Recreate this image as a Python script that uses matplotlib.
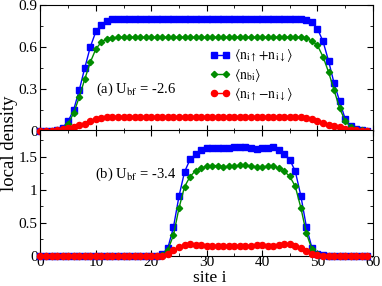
import matplotlib
matplotlib.use("Agg")
import matplotlib.pyplot as plt
import numpy as np

plt.rcParams["font.family"] = ["Liberation Serif", "DejaVu Serif"]
plt.rcParams["mathtext.fontset"] = "stix"

sites = np.arange(60)

# panel (a), U_bf = -2.6
a_total = [0, 0, 0, 0.005, 0.02, 0.067, 0.15, 0.29, 0.45, 0.60,
           0.71, 0.76, 0.787, 0.797, 0.80, 0.80, 0.80, 0.80, 0.80, 0.80,
           0.80, 0.80, 0.80, 0.80, 0.80, 0.80, 0.80, 0.80, 0.80, 0.80,
           0.80, 0.80, 0.80, 0.80, 0.80, 0.80, 0.80, 0.80, 0.80, 0.80,
           0.80, 0.80, 0.80, 0.80, 0.80, 0.80, 0.80, 0.797, 0.79, 0.775,
           0.73, 0.64, 0.50, 0.34, 0.21, 0.084, 0.03, 0.008, 0.002, 0]
a_boson = [0, 0, 0, 0.003, 0.012, 0.05, 0.125, 0.24, 0.37, 0.49,
           0.585, 0.635, 0.658, 0.665, 0.668, 0.668, 0.668, 0.668, 0.668, 0.668,
           0.668, 0.668, 0.668, 0.668, 0.668, 0.668, 0.668, 0.668, 0.668, 0.668,
           0.668, 0.668, 0.668, 0.668, 0.668, 0.668, 0.668, 0.668, 0.668, 0.668,
           0.668, 0.668, 0.668, 0.668, 0.668, 0.668, 0.668, 0.668, 0.66, 0.643,
           0.61, 0.53, 0.42, 0.29, 0.16, 0.07, 0.024, 0.006, 0.001, 0]
a_mag = [0, 0, 0, 0.003, 0.01, 0.017, 0.024, 0.036, 0.048, 0.065,
         0.079, 0.091, 0.098, 0.10, 0.10, 0.10, 0.10, 0.098, 0.095, 0.094,
         0.094, 0.094, 0.094, 0.094, 0.094, 0.094, 0.094, 0.094, 0.094, 0.094,
         0.094, 0.094, 0.094, 0.094, 0.094, 0.094, 0.094, 0.094, 0.094, 0.094,
         0.094, 0.094, 0.096, 0.098, 0.10, 0.10, 0.099, 0.096, 0.09, 0.079,
         0.067, 0.055, 0.041, 0.031, 0.022, 0.014, 0.006, 0.002, 0, 0]

# panel (b), U_bf = -3.4
b_total = [0] * 22 + [0.02, 0.12, 0.43, 0.90, 1.27, 1.46, 1.54, 1.60,
                      1.635, 1.635, 1.627, 1.627, 1.636, 1.646, 1.651, 1.646, 1.631, 1.616,
                      1.627, 1.636, 1.646, 1.611, 1.545, 1.459, 1.28, 0.91, 0.44, 0.12,
                      0.025, 0.003] + [0] * 8
b_boson = [0] * 22 + [0.01, 0.09, 0.31, 0.72, 1.045, 1.20, 1.29, 1.33,
                      1.357, 1.367, 1.367, 1.348, 1.357, 1.362, 1.372, 1.372, 1.362, 1.348,
                      1.348, 1.357, 1.357, 1.332, 1.28, 1.204, 1.05, 0.73, 0.34, 0.10,
                      0.02, 0.002] + [0] * 8
b_mag = [0] * 23 + [0.03, 0.08, 0.127, 0.157, 0.173, 0.165, 0.155,
                    0.148, 0.145, 0.15, 0.152, 0.142, 0.152, 0.152, 0.142, 0.152, 0.165,
                    0.165, 0.152, 0.152, 0.157, 0.175, 0.18, 0.152, 0.117, 0.066, 0.02,
                    0.003] + [0] * 9

labels = [r"$\langle \mathrm{n}_{\mathrm{i}\uparrow}\!+\!\mathrm{n}_{\mathrm{i}\downarrow}\rangle$",
          r"$\langle \mathrm{n}_{\mathrm{bi}}\rangle$",
          r"$\langle \mathrm{n}_{\mathrm{i}\uparrow}\!-\!\mathrm{n}_{\mathrm{i}\downarrow}\rangle$"]
BLUE, GREEN, RED = "#0000ff", "#008c00", "#ff0000"

fig = plt.figure(figsize=(3.82, 2.86), dpi=100)
ax1 = fig.add_axes([0.106, 0.5437, 0.870, 0.4388])
ax2 = fig.add_axes([0.106, 0.106, 0.870, 0.4378])


def draw(ax, tot, bos, mag):
    ax.plot(sites, tot, color=BLUE, marker="s", ms=3.8, lw=1.0, clip_on=False, zorder=3, label=labels[0])
    ax.plot(sites, bos, color=GREEN, marker="D", ms=3.2, lw=1.0, clip_on=False, zorder=4, label=labels[1])
    ax.plot(sites, mag, color=RED, marker="o", ms=4.4, lw=1.0, clip_on=False, zorder=5, label=labels[2])
    ax.set_xlim(0, 60)
    ax.set_xticks(np.arange(0, 61, 10))
    ax.set_xticks(np.arange(0, 61, 5), minor=True)
    ax.tick_params(which="both", direction="in", top=True, right=True, labelsize=11)
    ax.tick_params(axis="x", pad=0.5)
    ax.tick_params(axis="y", pad=2)
    ax.tick_params(which="major", length=4)
    ax.tick_params(which="minor", length=2)


draw(ax1, a_total, a_boson, a_mag)
draw(ax2, b_total, b_boson, b_mag)

ax1.set_ylim(0, 0.9)
ax1.set_yticks([0, 0.3, 0.6, 0.9])
ax1.set_yticklabels(["0", "0.3", "0.6", "0.9"])
ax1.set_yticks(np.arange(0, 0.91, 0.15), minor=True)
ax1.set_xticklabels([])
ax1.axhline(0, color="#505050", lw=2.0, zorder=1)

ax2.set_ylim(0, 1.9)
ax2.set_yticks([0, 0.5, 1, 1.5])
ax2.set_yticklabels(["0", "0.5", "1", "1.5"])
ax2.set_yticks(np.arange(0, 1.9, 0.25), minor=True)

ax1.text(0.168, 0.3, r"(a) U$_{\rm bf}$ = -2.6", transform=ax1.transAxes, fontsize=10.5)
ax2.text(0.165, 0.62, r"(b) U$_{\rm bf}$ = -3.4", transform=ax2.transAxes, fontsize=10.5)

ax1.legend(loc="upper left", bbox_to_anchor=(0.49, 0.71), frameon=False, fontsize=10,
           numpoints=2, handlelength=1.4, handletextpad=0.3, labelspacing=0.2, borderpad=0)

fig.text(0.024, 0.5, "local density", rotation=90, ha="center", va="center", fontsize=13.5)
fig.text(0.5495, 0.0, "site i", ha="center", va="bottom", fontsize=12.5)

fig.savefig("out.png", dpi=100)
